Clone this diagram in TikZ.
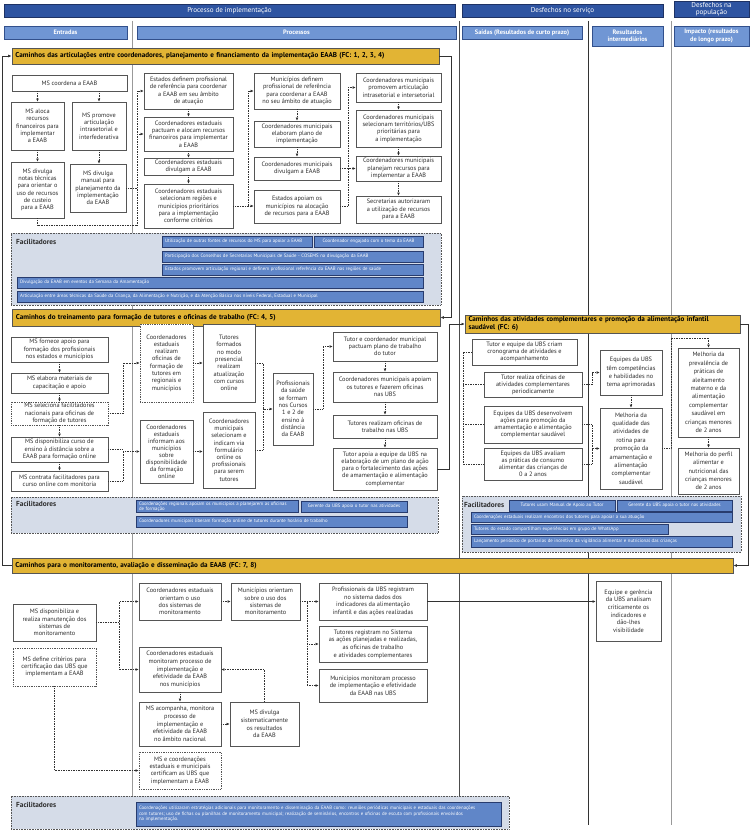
\documentclass[tikz,border=0pt]{standalone}
\usepackage{fontspec}
\setmainfont{PT Sans}
\usetikzlibrary{arrows.meta,calc}
\definecolor{hdrdark}{RGB}{46,84,161}
\definecolor{hdrborder}{RGB}{30,50,100}
\definecolor{hdrlight}{RGB}{112,150,212}
\definecolor{shdrborder}{RGB}{50,80,140}
\definecolor{gold}{RGB}{226,180,52}
\definecolor{facbg}{RGB}{213,220,232}
\definecolor{barblue}{RGB}{96,134,200}
\definecolor{bardark}{RGB}{40,60,110}
\definecolor{bordc}{RGB}{85,85,85}
\definecolor{txtc}{RGB}{45,45,45}
\definecolor{linec}{RGB}{50,50,50}
\newcommand{\bxf}{\fontsize{6.3}{7.3}\selectfont}
\newcommand{\mybox}[7]{%
 \pgfmathsetmacro{\mbW}{#4-#2}%
 \pgfmathsetmacro{\mbH}{#5-#3}%
 \pgfmathsetmacro{\mbX}{(#2+#4)/2}%
 \pgfmathsetmacro{\mbY}{(#3+#5)/2}%
 \node[#6, minimum width=\mbW pt, minimum height=\mbH pt] (#1) at (\mbX,\mbY) {#7};}
\newcommand{\fbar}[7][left]{%
 \pgfmathsetmacro{\mbW}{#5-#3}%
 \pgfmathsetmacro{\mbT}{#5-#3-6}%
 \pgfmathsetmacro{\mbH}{#6-#4}%
 \pgfmathsetmacro{\mbX}{(#3+#5)/2}%
 \pgfmathsetmacro{\mbY}{(#4+#6)/2}%
 \node[bar, minimum width=\mbW pt, minimum height=\mbH pt, text width=\mbT pt, align=#1] (#2) at (\mbX,\mbY) {#7};}
\tikzset{
 box/.style={draw=bordc, line width=0.75pt, fill=white, inner sep=1pt, align=center, text=txtc, font=\bxf},
 dbox/.style={box, densely dotted},
 hdr/.style={draw=hdrborder, line width=0.6pt, fill=hdrdark, text=white, align=center, inner sep=0.5pt, font=\fontsize{7.1}{7.4}\selectfont},
 shdr/.style={draw=shdrborder, line width=0.6pt, fill=hdrlight, text=white, align=center, inner sep=0.5pt, font=\bfseries\fontsize{6.4}{7.4}\selectfont},
 sec/.style={draw=bordc, line width=0.75pt, fill=gold, text=black, align=left, inner xsep=2pt, inner ysep=1pt, font=\bfseries\fontsize{7.1}{7.6}\selectfont},
 fac/.style={draw=bordc, densely dotted, line width=0.6pt, fill=facbg},
 faclab/.style={font=\bfseries\fontsize{7.3}{8}\selectfont, text=txtc, inner sep=0pt, anchor=west},
 bar/.style={draw=bardark, line width=0.6pt, fill=barblue, text=white, inner sep=1pt, font=\fontsize{4.8}{5.3}\selectfont},
 dl/.style={densely dotted, line width=0.65pt, draw=linec, -{Latex[length=3pt,width=2.8pt]}},
 sl/.style={line width=0.7pt, draw=linec, -{Latex[length=3pt,width=2.8pt]}},
 flow/.style={line width=0.8pt, draw=linec, -{Latex[length=3.5pt,width=3pt]}},
}
\begin{document}
\begin{tikzpicture}[x=1pt,y=-1pt]
\useasboundingbox (0,0) rectangle (750,832);
\fill[white] (0,0) rectangle (750,832);
% column separators
\draw[line width=0.9pt, draw=gray!80] (132,21) -- (132,796);
\draw[line width=0.9pt, draw=black!70] (459,21) -- (459,796);
\draw[line width=0.9pt, draw=black!80] (588,21) -- (588,825);
\draw[line width=0.9pt, draw=gray!80] (671,21) -- (671,825);
% headers
\mybox{hproc}{4}{4}{455}{17}{hdr}{Processo de implementação}
\mybox{hdes}{462}{4}{663}{17}{hdr}{Desfechos no serviço}
\mybox{hpop}{674}{1}{749}{17}{hdr}{Desfechos na\\população}
\mybox{hent}{4}{26}{127}{39}{shdr}{Entradas}
\mybox{hprocs}{137}{26}{456}{39}{shdr}{Processos}
\mybox{hsai}{462}{26}{582}{39}{shdr}{Saídas (Resultados de curto prazo)}
\mybox{hres}{592}{26}{663}{46}{shdr}{Resultados\\intermediários}
\mybox{himp}{674}{26}{749}{46}{shdr}{Impacto (resultados\\de longo prazo)}
% section headers
\mybox{h1}{12}{48}{439}{64}{sec, text width=420pt}{Caminhos das articulações entre coordenadores, planejamento e financiamento da implementação EAAB (FC: 1, 2, 3, 4)}
\mybox{h2}{12}{309}{440}{326}{sec, text width=420pt}{Caminhos do treinamento para formação de tutores e oficinas de trabalho (FC: 4, 5)}
\mybox{h4}{465}{315}{740}{333}{sec, text width=268pt}{Caminhos das atividades complementares e promoção da alimentação infantil\\saudável (FC: 6)}
\mybox{h3}{12}{558}{733}{573}{sec, text width=714pt}{Caminhos para o monitoramento, avaliação e disseminação da EAAB (FC: 7, 8)}
% facilitator boxes
\mybox{f1}{11}{233}{441}{305}{fac}{}
\node[faclab] (f1l) at (16,242) {Facilitadores};
\fbar{f1a}{162}{236}{312}{247}{Utilização de outras fontes de recursos do MS para apoiar a EAAB}
\fbar[center]{f1b}{314}{236}{423}{247}{Coordenador engajado com o tema da EAAB}
\fbar{f1c}{162}{251}{423}{262}{Participação dos Conselhos de Secretarias Municipais de Saúde - COSEMS na divulgação da EAAB}
\fbar{f1d}{162}{264}{423}{275}{Estados promovem articulação regional e definem profissional referência da EAAB nas regiões de saúde}
\fbar{f1e}{17}{277}{423}{288}{Divulgação da EAAB em eventos da Semana da Amamentação}
\fbar{f1f}{17}{291}{423}{302}{Articulação entre áreas técnicas da Saúde da Criança, da Alimentação e Nutrição, e da Atenção Básica nos níveis Federal, Estadual e Municipal}
\mybox{f2}{11}{497}{438}{533}{fac}{}
\node[faclab] (f2l) at (16,504) {Facilitadores};
\fbar{f2a}{136}{501}{298}{512}{Coordenações regionais apoiam os municípios a planejarem as oficinas\\de formação}
\fbar[center]{f2b}{301}{501}{407}{512}{Gerente da UBS apoia o tutor nas atividades}
\fbar{f2c}{136}{516}{407}{527}{Coordenadores municipais liberam formação online de tutores durante horário de trabalho}
\mybox{f4}{462}{496}{741}{552}{fac}{}
\node[faclab] (f4l) at (464,505) {Facilitadores};
\fbar[center]{f4a}{509}{500}{615}{511}{Tutores usam Manual de Apoio ao Tutor}
\fbar[center]{f4b}{617}{500}{732}{511}{Gerente da UBS apoia o tutor nas atividades}
\fbar{f4c}{471}{512}{732}{522}{Coordenações estaduais realizam encontros dos tutores para apoiar a sua atuação}
\fbar{f4d}{471}{524}{668}{534}{Tutores do estado compartilham experiências em grupo de WhatsApp}
\fbar{f4e}{471}{536}{732}{547}{Lançamento periódico de portarias de incentivo da vigilância alimentar e nutricional das crianças}
\mybox{f3}{11}{796}{509}{829}{fac}{}
\node[faclab] (f3l) at (16,805) {Facilitadores};
\fbar{f3a}{136}{802}{501}{826}{Coordenações utilizaram estratégias adicionais para monitoramento e disseminação da EAAB como: reuniões periódicas municipais e estaduais das coordenações\\com tutores; uso de fichas ou planilhas de monitoramento municipal; realização de seminários, encontros e oficinas de escuta com profissionais envolvidos\\na implementação.}
% ---------- section 1 ----------
\mybox{coord}{12}{75}{127}{91}{box}{MS coordena a EAAB}
\mybox{aloca}{11}{102}{64}{150}{box}{MS aloca\\recursos\\financeiros para\\implementar\\a EAAB}
\mybox{promove}{72}{102}{126}{150}{box}{MS promove\\articulação\\intrasetorial e\\interfederativa}
\mybox{notas}{11}{162}{64}{218}{box}{MS divulga\\notas técnicas\\para orientar o\\uso de recursos\\de custeio\\para a EAAB}
\mybox{manual}{70}{164}{126}{212}{box}{MS divulga\\manual para\\planejamento da\\implementação\\da EAAB}
\mybox{estdef}{144}{73}{233}{109}{box}{Estados definem profissional\\de referência para coordenar\\a EAAB em seu âmbito\\de atuação}
\mybox{pactuam}{144}{117}{233}{151}{box}{Coordenadores estaduais\\pactuam e alocam recursos\\financeiros para implementar\\a EAAB}
\mybox{estdiv}{144}{158}{233}{175}{box}{Coordenadores estaduais\\divulgam a EAAB}
\mybox{cesel}{144}{184}{233}{228}{box}{Coordenadores estaduais\\selecionam regiões e\\municípios prioritários\\para a implementação\\conforme critérios}
\mybox{mundef}{254}{73}{340}{109}{box}{Municípios definem\\profissional de referência\\para coordenar a EAAB\\no seu âmbito de atuação}
\mybox{munelab}{254}{121}{340}{147}{box}{Coordenadores municipais\\elaboram plano de\\implementação}
\mybox{mundiv}{254}{157}{340}{180}{box}{Coordenadores municipais\\divulgam a EAAB}
\mybox{estapo}{254}{190}{340}{223}{box}{Estados apoiam os\\municípios na alocação\\de recursos para a EAAB}
\mybox{promov}{356}{73}{441}{102}{box}{Coordenadores municipais\\promovem articulação\\intrasetorial e intersetorial}
\mybox{munsel}{356}{110}{441}{147}{box}{Coordenadores municipais\\selecionam territórios/UBS\\prioritárias para\\a implementação}
\mybox{planejam}{356}{156}{441}{181}{box}{Coordenadores municipais\\planejam recursos para\\implementar a EAAB}
\mybox{secaut}{356}{196}{441}{223}{box}{Secretarias autorizaram\\a utilização de recursos\\para a EAAB}
% ---------- section 2 ----------
\mybox{fornece}{11}{337}{108}{362}{box}{MS fornece apoio para\\formação dos profissionais\\nos estados e municípios}
\mybox{elabora}{11}{373}{108}{393}{box}{MS elabora materiais de\\capacitação e apoio}
\mybox{selfac}{11}{402}{108}{425}{dbox}{MS seleciona facilitadores\\nacionais para oficinas de\\formação de tutores}
\mybox{dispon}{11}{437}{108}{462}{box}{MS disponibiliza curso de\\ensino à distância sobre a\\EAAB para formação online}
\mybox{contrata}{11}{471}{108}{491}{box}{MS contrata facilitadores para\\curso online com monitoria}
\mybox{oficinas}{140}{324}{193}{402}{dbox}{Coordenadores\\estaduais\\realizam\\oficinas de\\formação de\\tutores em\\regionais e\\municípios}
\mybox{tutform}{203}{324}{255}{402}{box}{Tutores\\formados\\no modo\\presencial\\realizam\\atualização\\com cursos\\online}
\mybox{informam}{140}{420}{193}{483}{box, font=\fontsize{6.3}{7}\selectfont}{Coordenadores\\estaduais\\informam aos\\municípios\\sobre\\disponibilidade\\da formação\\online}
\mybox{selmun}{203}{412}{255}{488}{box, font=\fontsize{6.3}{7.2}\selectfont}{Coordenadores\\municipais\\selecionam e\\indicam via\\formulário\\online os\\profissionais\\para serem\\tutores}
\mybox{profis}{273}{373}{313}{445}{box}{Profissionais\\da saúde\\se formam\\nos Cursos\\1 e 2 de\\ensino à\\distância\\da EAAB}
\mybox{tp}{333}{332}{437}{361}{box}{Tutor e coordenador municipal\\pactuam plano de trabalho\\do tutor}
\mybox{capoiam}{333}{372}{437}{402}{box}{Coordenadores municipais apoiam\\os tutores e fazerem oficinas\\nas UBS}
\mybox{toficinas}{333}{415}{437}{438}{box}{Tutores realizam oficinas de\\trabalho nas UBS}
\mybox{tapoia}{333}{448}{437}{490}{box}{Tutor apoia a equipe da UBS na\\elaboração de um plano de ação\\para o fortalecimento das ações\\de amamentação e alimentação\\complementar}
% ---------- section 4 ----------
\mybox{criam}{472}{339}{577}{365}{box, font=\fontsize{6.3}{6.9}\selectfont}{Tutor e equipe da UBS criam\\cronograma de atividades e\\acompanhamento}
\mybox{realiza}{484}{372}{582}{397}{box, font=\fontsize{6.3}{6.9}\selectfont}{Tutor realiza oficinas de\\atividades complementares\\periodicamente}
\mybox{desenv}{484}{406}{582}{443}{box, font=\fontsize{6.3}{7}\selectfont}{Equipes da UBS desenvolvem\\ações para promoção da\\amamentação e alimentação\\complementar saudável}
\mybox{avaliam}{484}{448}{582}{480}{box, font=\fontsize{6.3}{7}\selectfont}{Equipes da UBS avaliam\\as práticas de consumo\\alimentar das crianças de\\0 a 2 anos}
\mybox{compet}{600}{350}{662}{395}{box, font=\fontsize{6.3}{8.2}\selectfont}{Equipes da UBS\\têm competências\\e habilidades no\\tema aprimoradas}
\mybox{melqual}{600}{408}{662}{489}{box, font=\fontsize{6.3}{8.4}\selectfont}{Melhoria da\\qualidade das\\atividades de\\rotina para\\promoção da\\amamentação e\\alimentação\\complementar\\saudável}
\mybox{prev}{678}{348}{739}{437}{box, font=\fontsize{6.3}{8.4}\selectfont}{Melhoria da\\prevalência de\\práticas de\\aleitamento\\materno e da\\alimentação\\complementar\\saudável em\\crianças menores\\de 2 anos}
\mybox{perfil}{678}{448}{739}{494}{box, font=\fontsize{6.3}{8.4}\selectfont}{Melhoria do perfil\\alimentar e\\nutricional das\\crianças menores\\de 2 anos}
% ---------- section 3 ----------
\mybox{dispmon}{13}{604}{96}{641}{box}{MS disponibiliza e\\realiza manutenção dos\\sistemas de\\monitoramento}
\mybox{defcrit}{13}{648}{96}{686}{dbox}{MS define critérios para\\certificação das UBS que\\implementam a EAAB}
\mybox{cestori}{139}{583}{221}{620}{box}{Coordenadores estaduais\\orientam o uso\\dos sistemas de\\monitoramento}
\mybox{munori}{231}{583}{300}{620}{box}{Municípios orientam\\sobre o uso dos\\sistemas de\\monitoramento}
\mybox{cestmon}{139}{647}{221}{692}{box, font=\fontsize{6.3}{7.7}\selectfont}{Coordenadores estaduais\\monitoram processo de\\implementação e\\efetividade da EAAB\\nos municípios}
\mybox{msacomp}{139}{702}{221}{746}{box, font=\fontsize{6.3}{7.7}\selectfont}{MS acompanha, monitora\\processo de\\implementação e\\efetividade da EAAB\\no âmbito nacional}
\mybox{msdiv}{230}{702}{299}{746}{box, font=\fontsize{6.3}{7.7}\selectfont}{MS divulga\\sistematicamente\\os resultados\\da EAAB}
\mybox{certif}{139}{752}{221}{789}{dbox}{MS e coordenações\\estaduais e municipais\\certificam as UBS que\\implementam a EAAB}
\mybox{profreg}{319}{583}{427}{620}{box, font=\fontsize{6.3}{7.6}\selectfont}{Profissionais da UBS registram\\no sistema dados dos\\indicadores da alimentação\\infantil e das ações realizadas}
\mybox{tutreg}{319}{626}{427}{662}{box, font=\fontsize{6.3}{7.6}\selectfont}{Tutores registram no Sistema\\as ações planejadas e realizadas,\\as oficinas de trabalho\\e atividades complementares}
\mybox{munmon}{319}{669}{427}{702}{box, font=\fontsize{6.3}{7.6}\selectfont}{Municípios monitoram processo\\de implementação e efetividade\\da EAAB nas UBS}
\mybox{equipe}{596}{581}{661}{641}{box, font=\fontsize{6.3}{7.6}\selectfont}{Equipe e gerência\\da UBS analisam\\criticamente os\\indicadores e\\dão-lhes\\visibilidade}
% ---------- bus coordinates ----------
\coordinate (bA) at (137,0);
\coordinate (bB) at (248,0);
\coordinate (bC) at (348,0);
\coordinate (bD) at (123,0);
\coordinate (bE) at (263,0);
\coordinate (bF) at (323,0);
\coordinate (bG) at (449,0);
\coordinate (bH) at (451,0);
\coordinate (bI) at (748,0);
\coordinate (bJ) at (2,0);
\coordinate (bK) at (463,0);
\coordinate (bL) at (592,0);
\coordinate (bM) at (671,338);
\coordinate (bN) at (119,0);
\coordinate (bO) at (307,0);
\coordinate (c1) at (137,225);
% ---------- section-level flows ----------
\draw[flow] (h1.east) -| (bH |- h2.east) -- (h2.east);
\draw[flow] (h4.east) -| (bI |- h3.east) -- (h3.east);
\draw[flow] (h3.west) -| (bJ |- h1.west) -- (h1.west);
% ---------- section 1 connectors ----------
\draw[dl] (coord.south -| aloca.north) -- (aloca.north);
\draw[dl] (coord.south -| promove.north) -- (promove.north);
\draw[dl] (aloca) -- (notas);
\draw[dl] (promove.south) -- (promove.south |- manual.north);
\draw[dl] (notas.south) |- (c1) |- (estdef.west);
\draw[dl,-] (manual.east) -- (manual.east -| bA);
\draw[dl] (bA |- pactuam.west) -- (pactuam.west);
\draw[dl] (estdef) -- (pactuam);
\draw[dl] (pactuam) -- (estdiv);
\draw[dl] (estdiv) -- (cesel);
\draw[dl] (cesel.east) -- (cesel.east -| estapo.west);
\draw[dl] (cesel.east -| bB) |- (mundef.west);
\draw[dl] (mundef) -- (munelab);
\draw[dl] (munelab) -- (mundiv);
\draw[dl] (mundiv.east) -- (planejam.west);
\draw[dl] (mundiv.east -| bC) |- (promov.west);
\draw[dl,-] (estapo.east) -| (bC |- mundiv.east);
\draw[dl] (promov) -- (munsel);
\draw[dl] (munsel) -- (planejam);
\draw[dl] (planejam) -- (secaut);
% ---------- section 2 connectors ----------
\draw[dl] (fornece) -- (elabora);
\draw[dl] (elabora) -- (selfac);
\draw[dl] (selfac) -- (dispon);
\draw[dl] (dispon) -- (contrata);
\draw[dl] (selfac.east) -| (bD |- oficinas.west) -- (oficinas.west);
\draw[dl] (contrata.east) -| (bD |- informam.west) -- (informam.west);
\draw[dl,-] (dispon.east) -- (dispon.east -| bD);
\draw[dl] (oficinas) -- (tutform);
\draw[dl] (informam.east) -- (informam.east -| selmun.west);
\draw[dl] (tutform.east) -| (bE |- profis.west) -- (profis.west);
\draw[dl,-] (selmun.east) -| (bE |- profis.west);
\draw[dl] (profis.east) -| (bF |- tp.west) -- (tp.west);
\draw[dl] (tp) -- (capoiam);
\draw[dl] (capoiam) -- (toficinas);
\draw[dl] (toficinas) -- (tapoia);
\draw[sl] (tapoia.east) -| (bG |- h4.west) -- (h4.west);
% ---------- section 4 connectors ----------
\draw[dl,-] (criam.west) -| (bK |- avaliam.west) -- (avaliam.west);
\draw[dl,-] (realiza.west) -- (realiza.west -| bK);
\draw[dl,-] (desenv.west) -- (desenv.west -| bK);
\draw[dl] (realiza.east) -| (bL |- compet.west) -- (compet.west);
\draw[dl] (desenv.east) -| (bL |- melqual.west) -- (melqual.west);
\draw[dl,-] (avaliam.east) -| (bL |- melqual.west);
\draw[dl] (compet) -- (melqual);
\draw[dl] (melqual.east) -| (bM) -| (prev.north);
\draw[dl] (prev) -- (perfil);
% ---------- section 3 connectors ----------
\draw[dl] (dispmon.east) -| (bN |- cestori.west) -- (cestori.west);
\draw[dl] (dispmon.east -| bN) |- (cestmon.west);
\draw[dl] (defcrit.south) |- (certif.west);
\draw[dl] (cestori) -- (munori);
\draw[dl] (munori.east) -- (profreg.west);
\draw[dl] (munori.east -| bO) |- (tutreg.west);
\draw[dl] (munori.east -| bO) |- (munmon.west);
\draw[dl] (msdiv.north) |- (cestmon.east);
\draw[dl] (cestmon) -- (msacomp);
\draw[dl] (msacomp) -- (msdiv);
\draw[sl] (profreg.east) -- (profreg.east -| equipe.west);
\end{tikzpicture}
\end{document}
